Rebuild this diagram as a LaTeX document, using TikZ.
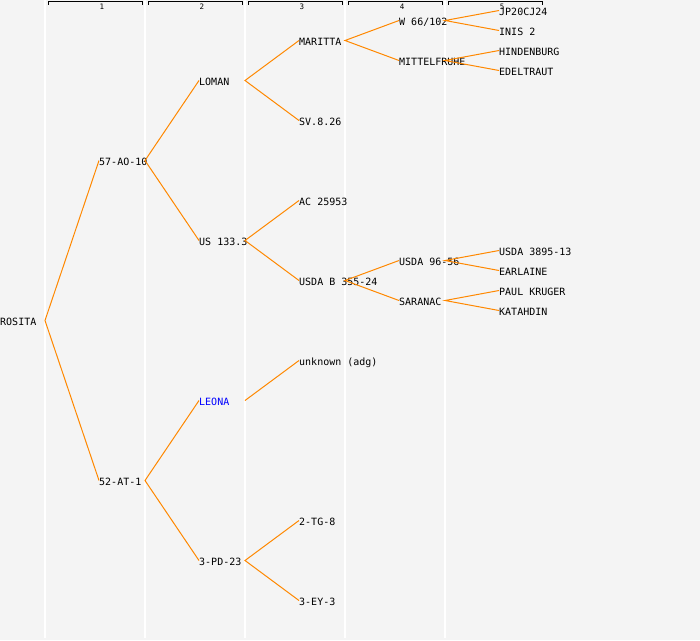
\documentclass[tikz,border=0pt]{standalone}
\usepackage{fontspec}
\setmonofont{DejaVu Sans Mono}
\definecolor{bgc}{HTML}{F4F4F4}
\definecolor{edgeorange}{HTML}{FF8800}
\definecolor{leonablue}{HTML}{0000FF}
\newcommand\mynode[5][]{%
  \node[lbl,#1] (#2) at ({max(0,100*#3-1)},{#4-1.5}) {#5};
  \coordinate (#2o) at ({45+100*#3},{#4-1.5});}
\begin{document}
\begin{tikzpicture}[x=1pt,y=-1pt,
  lbl/.style={anchor=west,inner sep=0pt,text height=10.5pt,text depth=0pt,
              font=\ttfamily\fontsize{10}{12}\selectfont},
  edge/.style={draw=edgeorange,line width=1pt},
  gridline/.style={draw=white,line width=1.3pt},
  ruler/.style={draw=black,line width=1pt},
  rnum/.style={font=\ttfamily\fontsize{7.5}{8}\selectfont,inner sep=0pt}]
\useasboundingbox[fill=bgc] (0,0) rectangle (700,640);
% column lines
\foreach \x in {45,145,245,345,445}
  \draw[gridline] (\x,0) -- (\x,638);
% ruler
\foreach \i in {0,...,4}{
  \pgfmathtruncatemacro\colnum{\i+1}
  \draw[ruler] ({48+100*\i},4.5) -- ({48+100*\i},1.5) -- ({142+100*\i},1.5) -- ({142+100*\i},4.5);
  \node[rnum] (r\i) at ({102+100*\i},6.5) {\colnum};
}
% nodes
\mynode{rosita}{0}{322}{ROSITA}
\mynode{aoten}{1}{162}{57-AO-10}
\mynode{atone}{1}{482}{52-AT-1}
\mynode{loman}{2}{82}{LOMAN}
\mynode{us}{2}{242}{US 133.3}
\mynode[text=leonablue]{leona}{2}{402}{LEONA}
\mynode{pd}{2}{562}{3-PD-23}
\mynode{maritta}{3}{42}{MARITTA}
\mynode{sv}{3}{122}{SV.8.26}
\mynode{ac}{3}{202}{AC 25953}
\mynode{usdab}{3}{282}{USDA B 355-24}
\mynode{unknown}{3}{362}{unknown (adg)}
\mynode{tg}{3}{522}{2-TG-8}
\mynode{ey}{3}{602}{3-EY-3}
\mynode{w}{4}{22}{W 66/102}
\mynode{mittel}{4}{62}{MITTELFRUHE}
\mynode{usdan}{4}{262}{USDA 96-56}
\mynode{saranac}{4}{302}{SARANAC}
\mynode{jp}{5}{12}{JP20CJ24}
\mynode{inis}{5}{32}{INIS 2}
\mynode{hind}{5}{52}{HINDENBURG}
\mynode{edel}{5}{72}{EDELTRAUT}
\mynode{usdat}{5}{252}{USDA 3895-13}
\mynode{earl}{5}{272}{EARLAINE}
\mynode{paul}{5}{292}{PAUL KRUGER}
\mynode{kat}{5}{312}{KATAHDIN}
% edges
\draw[edge] (aoten.west) -- (rositao) -- (atone.west);
\draw[edge] (loman.west) -- (aoteno) -- (us.west);
\draw[edge] (leona.west) -- (atoneo) -- (pd.west);
\draw[edge] (maritta.west) -- (lomano) -- (sv.west);
\draw[edge] (ac.west) -- (uso) -- (usdab.west);
\draw[edge] (leonao) -- (unknown.west);
\draw[edge] (tg.west) -- (pdo) -- (ey.west);
\draw[edge] (w.west) -- (marittao) -- (mittel.west);
\draw[edge] (usdan.west) -- (usdabo) -- (saranac.west);
\draw[edge] (jp.west) -- (wo) -- (inis.west);
\draw[edge] (hind.west) -- (mittelo) -- (edel.west);
\draw[edge] (usdat.west) -- (usdano) -- (earl.west);
\draw[edge] (paul.west) -- (saranaco) -- (kat.west);
\end{tikzpicture}
\end{document}
